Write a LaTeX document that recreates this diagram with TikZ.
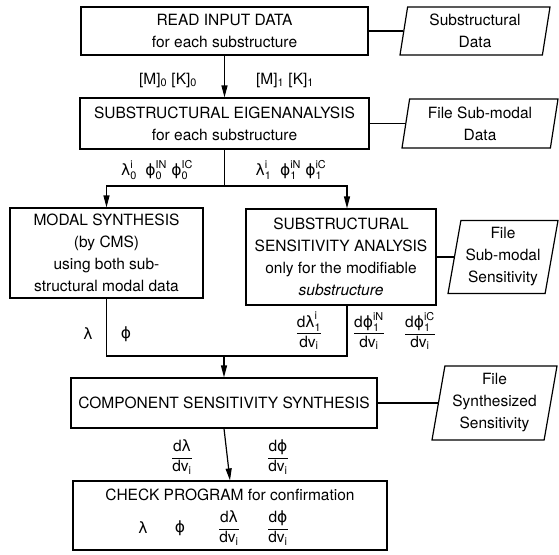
\documentclass[tikz,border=0pt]{standalone}
\usepackage{fontspec}
\setmainfont{TeX Gyre Heros}
\newfontfamily\greek{DejaVu Sans}
\usepackage{amsmath}
\usetikzlibrary{shapes.geometric,arrows.meta}

\newcommand{\lam}{\mbox{\greek λ}}
\newcommand{\fy}{\mbox{\greek ϕ}}
\newcommand{\dfr}[1]{$\dfrac{\text{d}#1}{\text{dv}_{\text{i}}}$}

\begin{document}
\begin{tikzpicture}[x=1pt,y=-1pt,line width=1.2pt,
  procbox/.style={draw,rectangle,align=center,inner sep=1pt,font=\fontsize{15.5}{22}\selectfont},
  filebox/.style={draw,trapezium,trapezium left angle=78,trapezium right angle=102,
    trapezium stretches body,align=center,inner sep=1pt,font=\fontsize{15.5}{22}\selectfont},
  flow/.style={-{Triangle[length=12pt,width=6pt]}},
  lbl/.style={inner sep=0pt,font=\fontsize{15.5}{22}\selectfont}]

  \useasboundingbox (0,0) rectangle (559,554);

  % main boxes
  \node[procbox,minimum width=287pt,minimum height=48pt] (read) at (224.5,31)
    {READ INPUT DATA\\for each substructure};
  \node[procbox,minimum width=289pt,minimum height=51pt] (eigen) at (224.5,123.5)
    {SUBSTRUCTURAL EIGENANALYSIS\\for each substructure};
  \node[procbox,minimum width=193pt,minimum height=90pt] (modal) at (106.5,253)
    {MODAL SYNTHESIS\\(by CMS)\\using both sub-\\structural modal data};
  \node[procbox,minimum width=190pt,minimum height=96pt] (sens) at (341,257)
    {SUBSTRUCTURAL\\SENSITIVITY ANALYSIS\\only for the modifiable\\\textit{substructure}};
  \node[procbox,minimum width=306pt,minimum height=50pt] (comp) at (224,403)
    {COMPONENT SENSITIVITY SYNTHESIS};
  \node[procbox,minimum width=314pt,minimum height=69pt] (check) at (230,515.5) {};

  % files
  \node[filebox,minimum width=150pt,minimum height=48pt] (subdata) at (475,31)
    {Substructural\\Data};
  \node[filebox,minimum width=156pt,minimum height=49pt] (modaldata) at (480,123.5)
    {File Sub-modal\\Data};
  \node[filebox,minimum width=110pt,minimum height=73pt] (sensdata) at (503,257)
    {File\\Sub-modal\\Sensitivity};
  \node[filebox,minimum width=125pt,minimum height=74pt] (synthdata) at (494.5,403)
    {File\\Synthesized\\Sensitivity};

  \draw (read.east) -- (read.east -| subdata.west);
  \draw (eigen.east) -- (eigen.east -| modaldata.west);
  \draw (sens.east) -- (sens.east -| sensdata.west);
  \draw (comp.east) -- (comp.east -| synthdata.west);

  % flow
  \coordinate (split) at (eigen.south |- 0,186);
  \coordinate (merge) at (comp.north |- 0,356);
  \draw[flow] (read.south) -- (eigen.north);
  \draw (eigen.south) -- (split);
  \draw[flow] (split) -| (modal.north);
  \draw[flow] (split) -| ([xshift=6pt]sens.north);
  \draw (modal.south) |- (merge);
  \draw ([xshift=6pt]sens.south) |- (merge);
  \draw[flow] (merge) -- (comp.north);
  \draw[flow] (comp.south) -- (check.north);

  % labels
  \node[lbl] (mk0) at (168,80) {[M]$_{\text{0}}$ [K]$_{\text{0}}$};
  \node[lbl] (mk1) at (285,80) {[M]$_{\text{1}}$ [K]$_{\text{1}}$};
  \node[lbl] (mode0) at (157,170)
    {$\lam_{\text{0}}^{\text{i}}$\ \ $\fy_{\text{0}}^{\text{IN}}$\ $\fy_{\text{0}}^{\text{IC}}$};
  \node[lbl] (mode1) at (291,170)
    {$\lam_{\text{1}}^{\text{i}}$\ \ $\fy_{\text{1}}^{\text{iN}}$\ $\fy_{\text{1}}^{\text{iC}}$};
  \node[lbl] (lam) at (88,334) {\lam};
  \node[lbl] (phi) at (126,334) {\fy};
  \node[lbl] (dlam1) at (309,331) {\dfr{\lam_{\text{1}}^{\text{i}}}};
  \node[lbl] (dphiN) at (369,331) {\dfr{\fy_{\text{1}}^{\text{iN}}}};
  \node[lbl] (dphiC) at (420,331) {\dfr{\fy_{\text{1}}^{\text{iC}}}};
  \node[lbl] (dlam) at (182,457) {\dfr{\lam}};
  \node[lbl] (dphi) at (278,457) {\dfr{\fy}};

  \node[lbl] (checktitle) at (230,495) {CHECK PROGRAM for confirmation};
  \node[lbl] (chklam) at (143,528) {\lam};
  \node[lbl] (chkphi) at (180,528) {\fy};
  \node[lbl] (chkdlam) at (229,528) {\dfr{\lam}};
  \node[lbl] (chkdphi) at (278,528) {\dfr{\fy}};
\end{tikzpicture}
\end{document}
